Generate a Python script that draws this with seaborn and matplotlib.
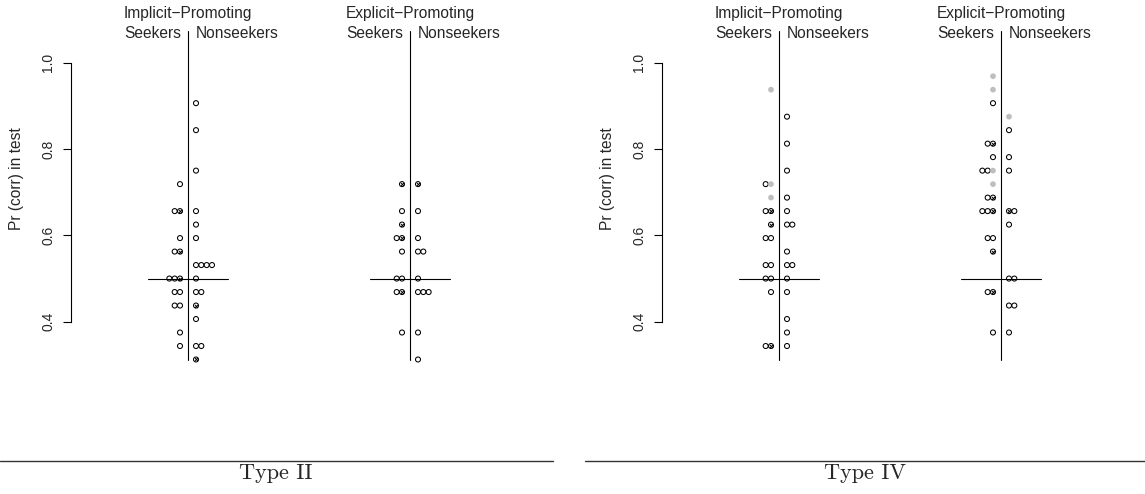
import numpy as np
import pandas as pd
import matplotlib.pyplot as plt
import seaborn as sns
from matplotlib.lines import Line2D

# Pr(corr) in test, listed from the centre line outward within each tie
# kind: o = open circle, x = circle with cross, g = grey filled
t2_imp_seek = [0.71875, 0.65625, 0.65625, 0.59375, 0.5625, 0.5625, 0.5, 0.5, 0.5,
               0.46875, 0.46875, 0.4375, 0.4375, 0.375, 0.34375]
t2_imp_seek_kind = ['o', 'x', 'o', 'o', 'x', 'o', 'x', 'o', 'o', 'o', 'o', 'o', 'o', 'o', 'o']
t2_imp_non = [0.90625, 0.84375, 0.75, 0.65625, 0.625, 0.59375, 0.53125, 0.53125, 0.53125,
              0.53125, 0.5, 0.46875, 0.46875, 0.4375, 0.40625, 0.34375, 0.34375, 0.3125]
t2_imp_non_kind = ['o', 'o', 'o', 'o', 'o', 'o', 'o', 'o', 'o', 'o', 'o', 'o', 'o', 'x', 'o', 'o', 'o', 'x']

t2_exp_seek = [0.71875, 0.65625, 0.625, 0.59375, 0.59375, 0.5625, 0.5, 0.5, 0.46875, 0.46875, 0.375]
t2_exp_seek_kind = ['x', 'o', 'x', 'x', 'o', 'o', 'o', 'o', 'x', 'o', 'o']
t2_exp_non = [0.71875, 0.65625, 0.59375, 0.5625, 0.5625, 0.5, 0.46875, 0.46875, 0.46875, 0.375, 0.3125]
t2_exp_non_kind = ['x', 'o', 'o', 'o', 'o', 'o', 'o', 'o', 'o', 'o', 'o']

t4_imp_seek = [0.9375, 0.71875, 0.71875, 0.6875, 0.65625, 0.65625, 0.625, 0.59375, 0.59375,
               0.53125, 0.53125, 0.5, 0.5, 0.46875, 0.34375, 0.34375]
t4_imp_seek_kind = ['g', 'g', 'o', 'g', 'x', 'o', 'x', 'o', 'o', 'o', 'o', 'o', 'o', 'o', 'x', 'o']
t4_imp_non = [0.875, 0.8125, 0.75, 0.6875, 0.65625, 0.625, 0.625, 0.5625, 0.53125, 0.53125,
              0.5, 0.46875, 0.40625, 0.375, 0.34375]
t4_imp_non_kind = ['o'] * 15

t4_exp_seek = [0.96875, 0.9375, 0.90625, 0.8125, 0.8125, 0.78125, 0.75, 0.75, 0.75, 0.71875,
               0.6875, 0.6875, 0.65625, 0.65625, 0.65625, 0.59375, 0.59375, 0.5625,
               0.46875, 0.46875, 0.375]
t4_exp_seek_kind = ['g', 'g', 'o', 'x', 'o', 'o', 'g', 'o', 'o', 'g', 'x', 'o', 'x', 'o', 'o',
                    'o', 'o', 'x', 'x', 'o', 'o']
t4_exp_non = [0.875, 0.84375, 0.78125, 0.75, 0.65625, 0.65625, 0.625, 0.5, 0.5, 0.4375, 0.4375, 0.375]
t4_exp_non_kind = ['g', 'o', 'o', 'o', 'x', 'o', 'o', 'o', 'o', 'o', 'o', 'o']

conditions = ['Implicit\u2212Promoting', 'Explicit\u2212Promoting']
panels = ['Type II', 'Type IV']
yticks = [0.4, 0.6, 0.8, 1.0]

rows = []
def add(panel, cond, group, vals, kinds):
    for v, k in zip(vals, kinds):
        rows.append(dict(panel=panel, cond=cond, group=group, value=v, kind=k))

add('Type II', 0, 'Seekers', t2_imp_seek, t2_imp_seek_kind)
add('Type II', 0, 'Nonseekers', t2_imp_non, t2_imp_non_kind)
add('Type II', 1, 'Seekers', t2_exp_seek, t2_exp_seek_kind)
add('Type II', 1, 'Nonseekers', t2_exp_non, t2_exp_non_kind)
add('Type IV', 0, 'Seekers', t4_imp_seek, t4_imp_seek_kind)
add('Type IV', 0, 'Nonseekers', t4_imp_non, t4_imp_non_kind)
add('Type IV', 1, 'Seekers', t4_exp_seek, t4_exp_seek_kind)
add('Type IV', 1, 'Nonseekers', t4_exp_non, t4_exp_non_kind)
df = pd.DataFrame(rows)

# stack tied points sideways (seekers to the left, nonseekers to the right)
px = 1 / 222.0
df['rank'] = df.groupby(['panel', 'cond', 'group', 'value']).cumcount()
side = np.where(df['group'] == 'Seekers', -1, 1)
df['x'] = df['cond'] + 1 + side * (8 * px + df['rank'] * 5.33 * px)

sns.set_style('white')
plt.rcParams['font.family'] = ['Liberation Sans', 'DejaVu Sans']

W, H = 1145, 494
fig = plt.figure(figsize=(W / 100, H / 100), dpi=100)

for i, panel in enumerate(panels):
    left = 71 + i * 591
    ax = fig.add_axes([left / W, (H - 370) / H, 440 / W, 350 / H])
    d = df[df['panel'] == panel]

    plain = d[d['kind'] != 'g']
    sns.scatterplot(data=plain, x='x', y='value', ax=ax, marker='o', s=13,
                    facecolor='none', edgecolor='black', linewidth=0.75, legend=False, zorder=3)
    cross = d[d['kind'] == 'x']
    sns.scatterplot(data=cross, x='x', y='value', ax=ax, marker='x', s=5,
                    color='black', linewidth=0.7, legend=False, zorder=4)
    grey = d[d['kind'] == 'g']
    if len(grey):
        sns.scatterplot(data=grey, x='x', y='value', ax=ax, marker='o', s=17,
                        color='#bebebe', edgecolor='none', legend=False, zorder=3)

    for c in range(2):
        pos = c + 1
        ax.plot([pos, pos], [0.312, 1.0741], color='black', lw=0.8, zorder=2)
        ax.plot([pos - 40 * px, pos + 40 * px], [0.5, 0.5], color='black', lw=0.8, zorder=2)
        ax.text(pos, 1.1047, conditions[c], ha='center', va='baseline', fontsize=11.2)
        ax.text(pos - 7 * px, 1.0572, 'Seekers', ha='right', va='baseline', fontsize=11.2)
        ax.text(pos + 8 * px, 1.0572, 'Nonseekers', ha='left', va='baseline', fontsize=11.2)

    ax.set_xlim(1 - 117 * px, 1 - 117 * px + 440 * px)
    ax.set_ylim(1 - (370 - 62.7) / 431.7, 1 + (62.7 - 20) / 431.7)
    for s in ['top', 'right', 'bottom']:
        ax.spines[s].set_visible(False)
    ax.spines['left'].set_bounds(0.4, 1.0)
    ax.spines['left'].set_linewidth(0.8)
    ax.spines['left'].set_color('black')
    ax.set_yticks(yticks)
    ax.set_yticklabels(['%.1f' % t for t in yticks], rotation=90, va='center', fontsize=10)
    ax.tick_params(axis='y', left=True, length=5.5, width=0.8, pad=6, color='black')
    ax.set_xticks([])
    ax.set_xlabel('')
    ax.set_ylabel('')
    ax.patch.set_alpha(0)

    fig.text((16.7 + i * 591) / W, (H - 179) / H, 'Pr (corr) in test', rotation=90,
             ha='center', va='center', fontsize=11.2)

# sub-figure captions
ly = (H - 460.7) / H
fig.add_artist(Line2D([0, 553 / W], [ly, ly], color='#333333', lw=1.0))
fig.add_artist(Line2D([585 / W, 1], [ly, ly], color='#333333', lw=1.0))
fig.text(276 / W, (H - 473) / H, 'Type II', ha='center', va='center', fontsize=16, family='cmr10')
fig.text(865 / W, (H - 473) / H, 'Type IV', ha='center', va='center', fontsize=16, family='cmr10')

fig.savefig('out.png', dpi=100)
